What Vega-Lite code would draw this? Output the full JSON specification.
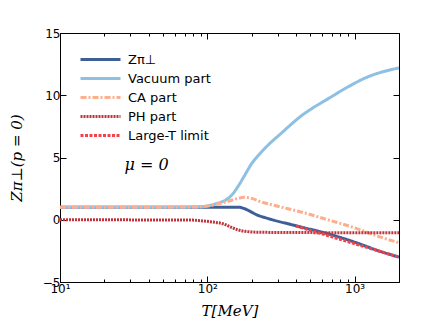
{
  "$schema": "https://vega.github.io/schema/vega-lite/v6.json",
  "width": 339,
  "height": 249,
  "autosize": "none",
  "padding": {"left": 60, "top": 33, "right": 22, "bottom": 46},
  "background": "white",
  "config": {
    "view": {"stroke": "black", "strokeWidth": 1},
    "axis": {"domain": false, "grid": false, "labelFont": "DejaVu Sans", "labelFontSize": 12, "labelColor": "black", "tickColor": "black", "titleColor": "black"}
  },
  "datasets": {
    "lines": [
      {"T": 10, "v": 1.0, "s": "Zπ⊥"},
      {"T": 100, "v": 1.0, "s": "Zπ⊥"},
      {"T": 140, "v": 1.01, "s": "Zπ⊥"},
      {"T": 165, "v": 1.0, "s": "Zπ⊥"},
      {"T": 178, "v": 0.9, "s": "Zπ⊥"},
      {"T": 192, "v": 0.72, "s": "Zπ⊥"},
      {"T": 218, "v": 0.38, "s": "Zπ⊥"},
      {"T": 250, "v": 0.15, "s": "Zπ⊥"},
      {"T": 284, "v": -0.04, "s": "Zπ⊥"},
      {"T": 369, "v": -0.38, "s": "Zπ⊥"},
      {"T": 474, "v": -0.7, "s": "Zπ⊥"},
      {"T": 615, "v": -1.03, "s": "Zπ⊥"},
      {"T": 1000, "v": -1.8, "s": "Zπ⊥"},
      {"T": 1500, "v": -2.55, "s": "Zπ⊥"},
      {"T": 2000, "v": -3.0, "s": "Zπ⊥"},
      {"T": 10, "v": 1.0, "s": "Vacuum part"},
      {"T": 50, "v": 1.0, "s": "Vacuum part"},
      {"T": 80, "v": 1.02, "s": "Vacuum part"},
      {"T": 100, "v": 1.1, "s": "Vacuum part"},
      {"T": 115, "v": 1.3, "s": "Vacuum part"},
      {"T": 134, "v": 1.6, "s": "Vacuum part"},
      {"T": 147, "v": 2.0, "s": "Vacuum part"},
      {"T": 160, "v": 2.6, "s": "Vacuum part"},
      {"T": 178, "v": 3.5, "s": "Vacuum part"},
      {"T": 201, "v": 4.55, "s": "Vacuum part"},
      {"T": 225, "v": 5.25, "s": "Vacuum part"},
      {"T": 251, "v": 5.85, "s": "Vacuum part"},
      {"T": 321, "v": 7.0, "s": "Vacuum part"},
      {"T": 419, "v": 8.2, "s": "Vacuum part"},
      {"T": 700, "v": 9.9, "s": "Vacuum part"},
      {"T": 910, "v": 10.7, "s": "Vacuum part"},
      {"T": 1186, "v": 11.4, "s": "Vacuum part"},
      {"T": 2000, "v": 12.2, "s": "Vacuum part"},
      {"T": 10, "v": 1.0, "s": "CA part"},
      {"T": 80, "v": 1.02, "s": "CA part"},
      {"T": 100, "v": 1.1, "s": "CA part"},
      {"T": 120, "v": 1.3, "s": "CA part"},
      {"T": 140, "v": 1.5, "s": "CA part"},
      {"T": 160, "v": 1.7, "s": "CA part"},
      {"T": 178, "v": 1.8, "s": "CA part"},
      {"T": 200, "v": 1.72, "s": "CA part"},
      {"T": 230, "v": 1.45, "s": "CA part"},
      {"T": 284, "v": 1.16, "s": "CA part"},
      {"T": 474, "v": 0.5, "s": "CA part"},
      {"T": 615, "v": 0.1, "s": "CA part"},
      {"T": 1000, "v": -0.65, "s": "CA part"},
      {"T": 1500, "v": -1.4, "s": "CA part"},
      {"T": 2000, "v": -1.85, "s": "CA part"},
      {"T": 10, "v": 0.0, "s": "PH part"},
      {"T": 80, "v": -0.03, "s": "PH part"},
      {"T": 90, "v": -0.08, "s": "PH part"},
      {"T": 108, "v": -0.18, "s": "PH part"},
      {"T": 130, "v": -0.35, "s": "PH part"},
      {"T": 145, "v": -0.6, "s": "PH part"},
      {"T": 160, "v": -0.8, "s": "PH part"},
      {"T": 180, "v": -0.93, "s": "PH part"},
      {"T": 220, "v": -1.0, "s": "PH part"},
      {"T": 300, "v": -1.02, "s": "PH part"},
      {"T": 2000, "v": -1.05, "s": "PH part"},
      {"T": 400, "v": -0.5, "s": "Large-T limit"},
      {"T": 2000, "v": -3.0, "s": "Large-T limit"}
    ],
    "label": [{"T": 38.7, "v": 4.4, "text": "μ = 0"}]
  },
  "layer": [
    {
      "data": {"name": "lines"},
      "mark": {"type": "line", "strokeWidth": 3, "interpolate": "monotone", "clip": true},
      "encoding": {
        "x": {
          "field": "T", "type": "quantitative",
          "scale": {"type": "log", "domain": [10, 2000], "nice": false},
          "axis": {
            "orient": "bottom",
            "values": [10, 20, 30, 40, 50, 60, 70, 80, 90, 100, 200, 300, 400, 500, 600, 700, 800, 900, 1000, 2000],
            "labelExpr": "datum.value == 10 ? '10¹' : datum.value == 100 ? '10²' : datum.value == 1000 ? '10³' : ''",
            "tickSize": {"condition": {"test": "datum.value == 10 || datum.value == 100 || datum.value == 1000", "value": -6}, "value": -3},
            "labelPadding": 7,
            "labelFlush": false,
            "title": "T[MeV]",
            "titleFont": "DejaVu Serif",
            "titleFontStyle": "italic",
            "titleFontWeight": "normal",
            "titleFontSize": 15,
            "titlePadding": 9
          }
        },
        "y": {
          "field": "v", "type": "quantitative",
          "scale": {"domain": [-5, 15], "nice": false},
          "axis": {
            "orient": "left",
            "values": [-5, 0, 5, 10, 15],
            "tickSize": -6,
            "labelPadding": 6,
            "title": "Zπ⊥(p = 0)",
            "titleFont": "DejaVu Serif",
            "titleFontStyle": "italic",
            "titleFontWeight": "normal",
            "titleFontSize": 15,
            "titlePadding": 18
          }
        },
        "color": {
          "field": "s", "type": "nominal",
          "scale": {
            "domain": ["Zπ⊥", "Vacuum part", "CA part", "PH part", "Large-T limit"],
            "range": ["#3e5f95", "#8dc0e3", "#fcae8e", "#c0343d", "#f2424b"]
          },
          "legend": {
            "title": null,
            "orient": "none",
            "legendX": 29,
            "legendY": 15,
            "symbolType": "M-2,0H2",
            "symbolSize": 400,
            "symbolStrokeWidth": 3,
            "labelFont": "DejaVu Sans",
            "labelFontSize": 13,
            "labelColor": "black",
            "rowPadding": 0,
            "labelOffset": 16
          }
        },
        "strokeDash": {
          "field": "s", "type": "nominal",
          "scale": {
            "domain": ["Zπ⊥", "Vacuum part", "CA part", "PH part", "Large-T limit"],
            "range": [[1, 0], [1, 0], [6, 2, 2, 2], [2, 1], [3, 1.5]]
          },
          "legend": {
            "title": null,
            "orient": "none",
            "legendX": 29,
            "legendY": 15,
            "symbolType": "M-2,0H2",
            "symbolSize": 400,
            "symbolStrokeWidth": 3,
            "labelFont": "DejaVu Sans",
            "labelFontSize": 13,
            "labelColor": "black",
            "rowPadding": 0,
            "labelOffset": 16
          }
        }
      }
    },
    {
      "mark": {"type": "rule", "color": "#b0b0b0", "strokeWidth": 1, "strokeDash": [2, 2]},
      "encoding": {
        "y": {
          "datum": 0, "type": "quantitative",
          "axis": {"orient": "right", "values": [-5, 0, 5, 10, 15], "tickSize": -6, "labels": false, "title": null}
        }
      }
    },
    {
      "data": {"name": "label"},
      "mark": {"type": "text", "font": "DejaVu Serif", "fontStyle": "italic", "fontSize": 16, "align": "center", "baseline": "middle", "color": "black"},
      "encoding": {
        "x": {
          "field": "T", "type": "quantitative",
          "axis": {
            "orient": "top",
            "values": [10, 20, 30, 40, 50, 60, 70, 80, 90, 100, 200, 300, 400, 500, 600, 700, 800, 900, 1000, 2000],
            "tickSize": {"condition": {"test": "datum.value == 10 || datum.value == 100 || datum.value == 1000", "value": -6}, "value": -3},
            "labels": false,
            "title": null
          }
        },
        "y": {"field": "v", "type": "quantitative", "axis": null},
        "text": {"field": "text"}
      }
    }
  ],
  "resolve": {"axis": {"x": "independent", "y": "independent"}}
}
